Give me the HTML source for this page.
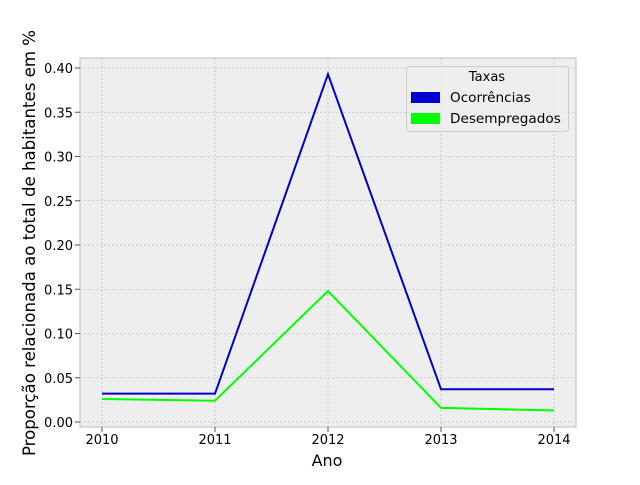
<!DOCTYPE html>
<html><head><meta charset="utf-8"><style>
body{margin:0;background:#fff;}
svg text{font-family:"DejaVu Sans","Liberation Sans",sans-serif;}
</style></head><body>
<svg id="chart" width="640" height="480" xmlns="http://www.w3.org/2000/svg">
<rect x="0" y="0" width="640" height="480" fill="#fff"/>
<rect x="80" y="58" width="496" height="369" fill="#eeeeee" stroke="#bcbcbc"/>
<g id="grid"></g>
<g id="axes"></g>
<g id="series"></g>
<text x="327" y="466" font-size="16" text-anchor="middle">Ano</text>
<text transform="translate(35,243) rotate(-90)" font-size="16.6" text-anchor="middle">Proporção relacionada ao total de habitantes em %</text>
<g>
<rect x="406.5" y="66.5" width="162" height="65" rx="3" fill="#eeeeee" fill-opacity="0.8" stroke="#cccccc"/>
<text x="487" y="81" font-size="13" text-anchor="middle">Taxas</text>
<rect x="411" y="92" width="29" height="11" fill="#0000cc"/>
<text x="450" y="102" font-size="13.6">Ocorrências</text>
<rect x="411" y="113" width="29" height="11" fill="#00ff00"/>
<text x="450" y="123" font-size="13.6">Desempregados</text>
</g>
</svg>
<script>
const years = [2010, 2011, 2012, 2013, 2014];
const ocorrencias = [0.032, 0.032, 0.393, 0.037, 0.037];
const desempregados = [0.026, 0.024, 0.148, 0.016, 0.013];
const yTicks = [0, 0.05, 0.10, 0.15, 0.20, 0.25, 0.30, 0.35, 0.40];
const NS = "http://www.w3.org/2000/svg";
function xs(v){return 102 + (v-2010)*113;}
function ys(v){return 422 - v*885;}
function mk(tag, attrs, parent){const e=document.createElementNS(NS,tag);for(const k in attrs)e.setAttribute(k,attrs[k]);parent.appendChild(e);return e;}
const grid=document.getElementById('grid'), axes=document.getElementById('axes'), series=document.getElementById('series');
years.forEach(y=>{
  const l=mk('line',{x1:xs(y),x2:xs(y),y1:58,y2:427,stroke:'#b0b0b0','stroke-width':0.6,'stroke-dasharray':'2,2'},grid);
  
  
  const t=mk('line',{x1:xs(y),x2:xs(y),y1:427,y2:432,stroke:'#555'},axes);
  
  
  const tx=mk('text',{x:xs(y),y:444,'font-size':13,'text-anchor':'middle'},axes);
  tx.textContent=y;
  
  
});
yTicks.forEach(v=>{
  const l=mk('line',{x1:80,x2:576,y1:ys(v),y2:ys(v),stroke:'#b0b0b0','stroke-width':0.6,'stroke-dasharray':'2,2'},grid);
  
  
  const t=mk('line',{x1:75,x2:80,y1:ys(v),y2:ys(v),stroke:'#555'},axes);
  
  
  const tx=mk('text',{x:73,y:ys(v)+5,'font-size':13,'text-anchor':'end'},axes);
  tx.textContent=v.toFixed(2);
  
  
});
function line(vals,color,name){
  const p=mk('polyline',{points:vals.map((v,i)=>xs(years[i])+','+ys(v)).join(' '),fill:'none',stroke:color,'stroke-width':2},series);
  
  
}
line(ocorrencias,'#0000cc','ocorrencias-line');
line(desempregados,'#00ff00','desempregados-line');
</script>
</body></html>
